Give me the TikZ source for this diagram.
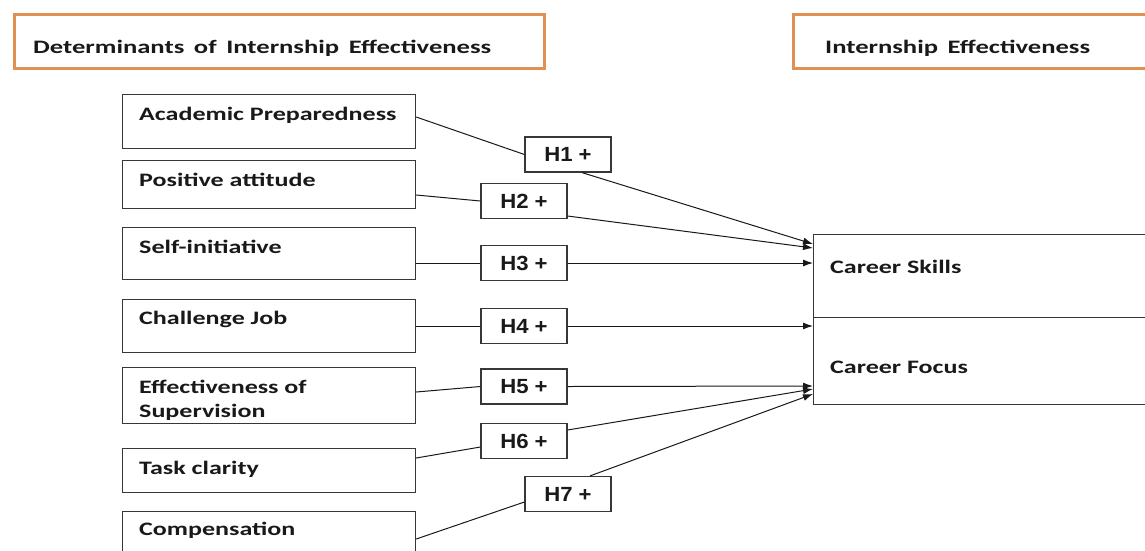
\documentclass[tikz,border=0pt]{standalone}
\usepackage{fontspec}
\setmainfont{Carlito}[FakeStretch=1.37]
\newfontfamily\hfont{Liberation Sans}[FakeStretch=1.08]
\newfontfamily\tfont{Carlito}[FakeStretch=1.4,WordSpace=1.6]
\usetikzlibrary{arrows.meta}
\definecolor{framebrown}{RGB}{224,144,80}
\definecolor{boxline}{RGB}{55,55,55}
\definecolor{ink}{RGB}{25,25,25}

\begin{document}
\begin{tikzpicture}[x=1pt,y=-1pt,
  title/.style={draw=framebrown,line width=3pt,anchor=north west,inner sep=0pt,minimum height=54pt},
  factor/.style={draw=boxline,line width=1.2pt,anchor=north west,inner sep=0pt,minimum width=293pt},
  ftext/.style={anchor=base west,inner sep=0pt,text=ink,align=left,font=\fontsize{19}{24}\selectfont\bfseries},
  ttext/.style={ftext,font=\tfont\fontsize{19}{24}\selectfont\bfseries},
  hyp/.style={draw=boxline,line width=1.2pt,inner sep=0pt,minimum width=86pt,minimum height=35pt,text=ink,font=\hfont\fontsize{20.5}{24}\selectfont\bfseries},
  link/.style={line width=1pt,draw=ink},
  arr/.style={link,-{Latex[length=10pt,width=7pt]}}]
\useasboundingbox (0,0) rectangle (1145,550);
\clip (0,0) rectangle (1145,550);

% headings
\node[title,minimum width=530pt] (left) at (13,13) {};
\node[ttext] (left-t) at (33,53) {Determinants of Internship Effectiveness};
\node[title,minimum width=400pt] (right) at (792,13) {};
\node[ttext] (right-t) at (825,53) {Internship Effectiveness};

% determinants
\node[factor,minimum height=54pt] (ap) at (122,94) {};
\node[ftext] (ap-t) at (139,120) {Academic Preparedness};
\node[factor,minimum height=48pt] (pa) at (122,160) {};
\node[ftext] (pa-t) at (139,186) {Positive attitude};
\node[factor,minimum height=52pt] (si) at (122,227) {};
\node[ftext] (si-t) at (139,253) {Self-initiative};
\node[factor,minimum height=53pt] (cj) at (122,299) {};
\node[ftext] (cj-t) at (139,324) {Challenge Job};
\node[factor,minimum height=56pt] (es) at (122,367) {};
\node[ftext] (es-t) at (139,417) {Effectiveness of\\Supervision};
\node[factor,minimum height=44pt] (tc) at (122,448) {};
\node[ftext] (tc-t) at (139,474) {Task clarity};
\node[factor,minimum height=60pt] (co) at (122,511) {};
\node[ftext] (co-t) at (139,535) {Compensation};

% effectiveness
\node[factor,minimum width=350pt,minimum height=83pt] (skills) at (813,234) {};
\node[ftext] (skills-t) at (830,273) {Career Skills};
\node[factor,minimum width=350pt,minimum height=87pt] (focus) at (813,317) {};
\node[ftext] (focus-t) at (830,373) {Career Focus};

% hypotheses
\node[hyp] (h1) at (568,154.5) {H1 +};
\node[hyp] (h2) at (524,201) {H2 +};
\node[hyp] (h3) at (524,263) {H3 +};
\node[hyp] (h4) at (524,326) {H4 +};
\node[hyp] (h5) at (524,386.5) {H5 +};
\node[hyp] (h6) at (524,441) {H6 +};
\node[hyp] (h7) at (568,494) {H7 +};

\coordinate (t1) at (813,244);
\coordinate (t2) at (813,248);
\coordinate (t3) at (813,263);
\coordinate (t4) at (813,326);
\coordinate (t5) at (813,386);
\coordinate (t6) at (813,389);
\coordinate (t7) at (813,394);

\draw[link] ([yshift=-23pt]ap.north east) -- (h1.west);
\draw[link] ([yshift=-35pt]pa.north east) -- (h2.west);
\draw[link] ([yshift=-36pt]si.north east) -- (h3.west);
\draw[link] ([yshift=-27pt]cj.north east) -- (h4.west);
\draw[link] ([yshift=-25pt]es.north east) -- (h5.west);
\draw[link] ([yshift=-10pt]tc.north east) -- ([yshift=-6pt]h6.west);
\draw[link] ([yshift=-28pt]co.north east) -- ([yshift=-8pt]h7.west);

\draw[arr] ([xshift=14pt]h1.south) -- (t1);
\draw[arr] ([yshift=-15pt]h2.east) -- (t2);
\draw[arr] (h3.east) -- (t3);
\draw[arr] (h4.east) -- (t4);
\draw[arr] (h5.east) -- (t5);
\draw[arr] ([yshift=11pt]h6.east) -- (t6);
\draw[arr] ([xshift=22pt]h7.north) -- (t7);
\end{tikzpicture}
\end{document}
